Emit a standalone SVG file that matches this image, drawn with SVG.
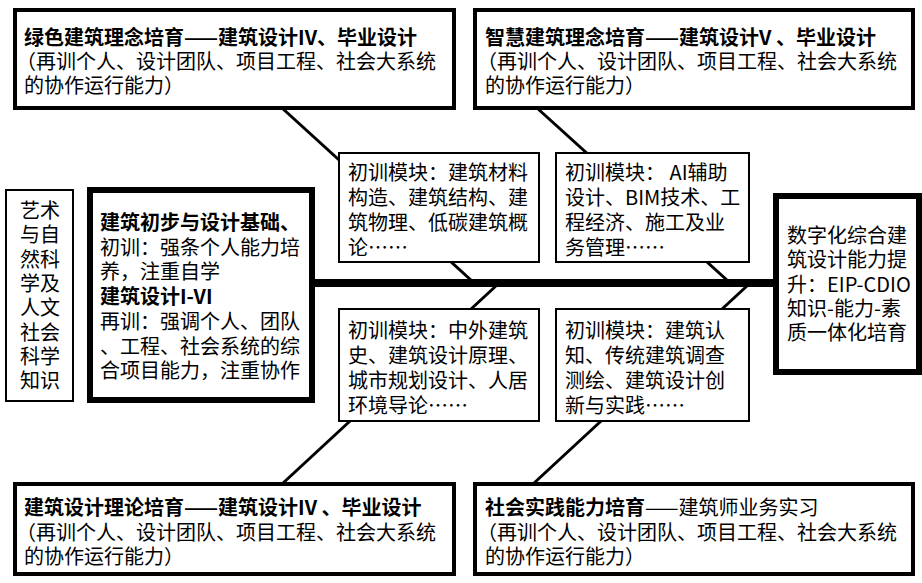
<svg xmlns="http://www.w3.org/2000/svg" width="922" height="583" viewBox="0 0 922 583">
<style>
text{font-family:"Noto Sans CJK SC","Noto Sans",sans-serif;font-size:20px;fill:#000}
.b{font-weight:bold}
.thick{fill:#fff;stroke:#000;stroke-width:6}
.mid{fill:#fff;stroke:#000;stroke-width:4}
.thin{fill:#fff;stroke:#000;stroke-width:2}
.con{stroke:#000;stroke-width:3;fill:none}
</style>
<rect width="922" height="583" fill="#fff"/>
<g id="connectors">
<line x1="312" y1="283" x2="776" y2="283" stroke="#000" stroke-width="8"/>
<line class="con" x1="282" y1="108" x2="472" y2="281"/>
<line class="con" x1="537" y1="108" x2="728" y2="281"/>
<line class="con" x1="497" y1="285" x2="282" y2="484"/>
<line class="con" x1="748" y1="285" x2="533" y2="484"/>
</g>
<g id="green">
<rect class="mid" x="15" y="10" width="439" height="98"/>
<text x="24" y="45"><tspan class="b">绿色建筑理念培育——建筑设计IV、毕业设计</tspan><tspan x="16" dy="24">（再训个人、设计团队、项目工程、社会大系统</tspan><tspan x="24" dy="24">的协作运行能力）</tspan></text>
</g>
<g id="smart">
<rect class="mid" x="475" y="10" width="438" height="98"/>
<text x="485" y="45"><tspan class="b">智慧建筑理念培育——建筑设计V 、毕业设计</tspan><tspan x="477" dy="24">（再训个人、设计团队、项目工程、社会大系统</tspan><tspan x="485" dy="24">的协作运行能力）</tspan></text>
</g>
<g id="theory">
<rect class="mid" x="15" y="484" width="439" height="90"/>
<text x="24" y="515"><tspan class="b">建筑设计理论培育——建筑设计IV 、毕业设计</tspan><tspan x="16" dy="25">（再训个人、设计团队、项目工程、社会大系统</tspan><tspan x="24" dy="24">的协作运行能力）</tspan></text>
</g>
<g id="practice">
<rect class="mid" x="475" y="484" width="438" height="90"/>
<text x="485" y="515"><tspan class="b">社会实践能力培育</tspan>——建筑师业务实习<tspan x="477" dy="25">（再训个人、设计团队、项目工程、社会大系统</tspan><tspan x="485" dy="24">的协作运行能力）</tspan></text>
</g>
<g id="module1">
<rect class="thin" x="339" y="153" width="200" height="109"/>
<text x="348" y="180">初训模块：建筑材料<tspan x="348" dy="25">构造、建筑结构、建</tspan><tspan x="348" dy="25">筑物理、低碳建筑概</tspan><tspan x="348" dy="25">论……</tspan></text>
</g>
<g id="module2">
<rect class="thin" x="556" y="153" width="193" height="109"/>
<text x="565" y="180">初训模块： AI辅助<tspan x="565" dy="25">设计、BIM技术、工</tspan><tspan x="565" dy="25">程经济、施工及业</tspan><tspan x="565" dy="25">务管理……</tspan></text>
</g>
<g id="module3">
<rect class="thin" x="339" y="309" width="200" height="112"/>
<text x="348" y="338">初训模块：中外建筑<tspan x="348" dy="25">史、建筑设计原理、</tspan><tspan x="348" dy="25">城市规划设计、人居</tspan><tspan x="348" dy="25">环境导论……</tspan></text>
</g>
<g id="module4">
<rect class="thin" x="556" y="309" width="193" height="112"/>
<text x="565" y="338">初训模块：建筑认<tspan x="565" dy="25">知、传统建筑调查</tspan><tspan x="565" dy="25">测绘、建筑设计创</tspan><tspan x="565" dy="25">新与实践……</tspan></text>
</g>
<g id="knowledge">
<rect class="thin" x="6" y="190" width="67" height="211"/>
<text x="20" y="218">艺术<tspan x="20" dy="24.3">与自</tspan><tspan x="20" dy="24.3">然科</tspan><tspan x="20" dy="24.3">学及</tspan><tspan x="20" dy="24.3">人文</tspan><tspan x="20" dy="24.3">社会</tspan><tspan x="20" dy="24.3">科学</tspan><tspan x="20" dy="24.3">知识</tspan></text>
</g>
<g id="design">
<rect class="thick" x="90" y="190" width="222" height="210"/>
<text x="100" y="230"><tspan class="b">建筑初步与设计基础、</tspan><tspan x="100" dy="24.7">初训：强条个人能力培</tspan><tspan x="100" dy="24.7">养，注重自学</tspan><tspan x="100" dy="24.7" class="b">建筑设计I-VI</tspan><tspan x="100" dy="24.7">再训：强调个人、团队</tspan><tspan x="100" dy="24.7">、工程、社会系统的综</tspan><tspan x="100" dy="24.7">合项目能力，注重协作</tspan></text>
</g>
<g id="goal">
<rect class="thick" x="776" y="196" width="143" height="176"/>
<text x="787" y="243">数字化综合建<tspan x="787" dy="24.3">筑设计能力提</tspan><tspan x="787" dy="24.3">升：EIP-CDIO</tspan><tspan x="787" dy="24.3">知识-能力-素</tspan><tspan x="787" dy="24.3">质一体化培育</tspan></text>
</g>
</svg>
